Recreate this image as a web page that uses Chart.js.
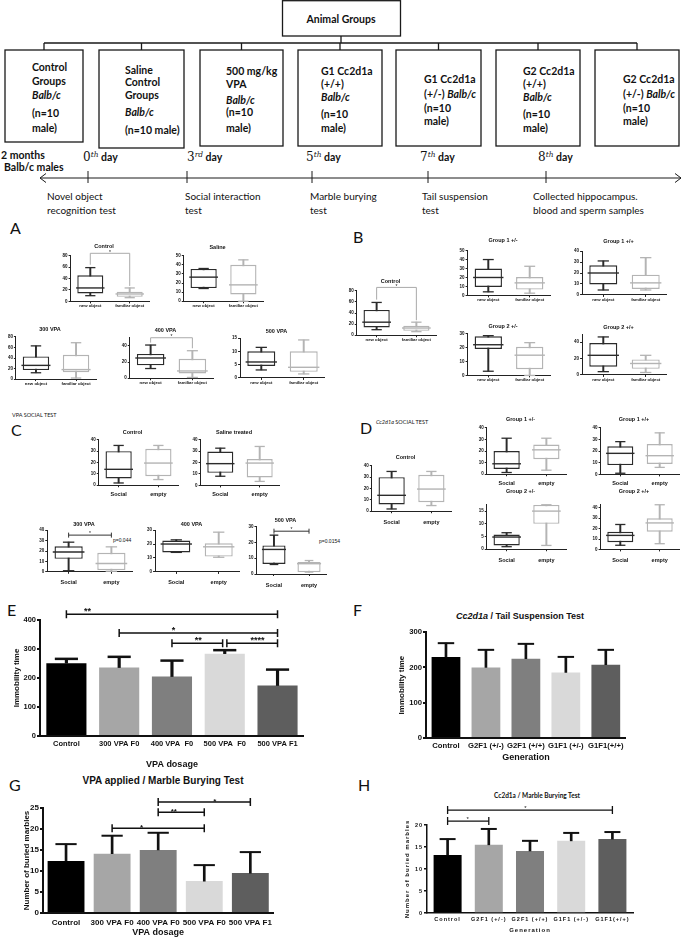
<!DOCTYPE html>
<html>
<head>
<meta charset="utf-8">
<script src="https://cdn.jsdelivr.net/npm/chart.js@4.4.1/dist/chart.umd.min.js"></script>
<style>
  body { margin: 0; background: #fff; }
  #page { position: relative; width: 685px; height: 938px; overflow: hidden; background: #fff; font-family: Lato, 'Liberation Sans', sans-serif; color: #111; }
  .t { position: absolute; white-space: nowrap; transform: translateY(-50%); line-height: 1; }
  .c { transform: translate(-50%, -50%); }
  canvas { position: absolute; }
  .bt { font-weight: bold; font-size: 10.5px; }
  .day { font-weight: bold; font-size: 10.5px; }
  .day .n { font-family: 'DejaVu Serif', serif; font-weight: normal; font-size: 12px; }
  .day sup { font-family: 'DejaVu Serif', serif; font-style: italic; font-weight: normal; font-size: 7.5px; }
  .test { font-size: 10px; }
  .lt { font-size: 16px; }
  .sm { font-size: 5.5px; }
</style>
</head>
<body>
<div id="page"></div>
<script>
// ---------- data: novel object recognition, [min, q1, median, q3, max] per box
const objectCats = ['new object', 'familiar object'];
const aControl   = [[10, 14, 23.5, 45.5, 59], [6.5, 8, 13, 17, 23.5]];
const aSaline    = [[14, 14.5, 26.5, 35.5, 36], [0, 7.5, 18, 40, 45.5]];
const a300       = [[12, 17, 26, 43, 63], [2, 13, 18, 46, 69]];
const a400       = [[12, 16, 25, 30, 41], [1, 6, 9, 24, 34]];
const a500       = [[3, 4.5, 6, 10, 11.5], [1.5, 2.3, 4, 10, 14.3]];
const bGroup1Het = [[4, 9.5, 20, 30, 40], [2.5, 6.5, 14, 20.5, 32.5]];
const bGroup1Hom = [[4.5, 9.5, 20, 27, 31], [4.5, 5.5, 11, 18.5, 34]];
const bGroup2Het = [[3, 19, 22, 28, 28.5], [0, 4.5, 14.5, 20.5, 23.5]];
const bGroup2Hom = [[4, 10, 24, 39, 46.5], [3, 7.5, 14, 19, 24]];

// ---------- data: social interaction
const socialCats = ['Social', 'empty'];
const cControl   = [[2, 6, 14, 30, 35], [5, 8, 19.5, 32, 35]];
const cSaline    = [[8, 11, 19, 29.5, 32.5], [3.5, 7, 19.5, 23, 34]];
const c300       = [[1, 12.5, 19, 24.5, 28.5], [0.5, 1.6, 8, 18.3, 24]];
const c400       = [[14, 14, 20, 22.5, 23], [10.5, 11, 18, 20.5, 28.5]];
const c500       = [[6, 6.3, 15.5, 18, 24.5], [1.2, 1.2, 6.5, 7.5, 8.5]];
const dGroup1Het = [[1.5, 4.5, 9, 20, 31], [3.5, 13, 21, 25.5, 31]];
const dGroup1Hom = [[1, 8, 18, 24, 28], [6, 9, 16, 26, 35.5]];
const dGroup2Het = [[1, 1.5, 4.8, 5.8, 6.5], [1.5, 10, 15, 17.5, 17.5]];
const dGroup2Hom = [[4, 7, 13.5, 17, 24], [5.5, 17, 25.5, 30, 43]];

// significance: [from, to, value, label, label position, left leg end, right leg end]
const aControlSig = [[0, 1, 84, '*', 0.5, 64, 27]];
const a400Sig     = [[0, 1, 50, '*', 0.5, 44, 37]];
const bControlSig = [[0, 1, 86, '*', 0.5, 64, 27]];
const c300Sig     = [[0, 1, 35.3, '*', 0.5]];
const c500Sig     = [[0, 1, 27, '*', 0.5]];

// ---------- data: bar charts (mean and top of error bar)
const vpaCatsE = ['Control', '300 VPA F0', '400 VPA  F0', '500 VPA  F0', '500 VPA F1'];
const vpaCatsG = ['Control', '300 VPA F0', '400 VPA F0', '500 VPA F0', '500 VPA F1'];
const genCats  = ['Control', 'G2F1 (+/-)', 'G2F1 (+/+)', 'G1F1 (+/-)', 'G1F1(+/+)'];
const eMeans = [251, 236, 205, 284, 174];
const eTops  = [266, 273, 260, 296, 229];
const fMeans = [230, 200, 225, 186, 208];
const fTops  = [269, 250, 267, 230, 250];
const gMeans = [12.4, 14.1, 15.0, 7.6, 9.5];
const gTops  = [16.4, 18.4, 19.1, 11.4, 14.5];
const hMeans = [13.2, 15.5, 14.1, 16.4, 16.8];
const hTops  = [16.8, 19.1, 16.4, 18.2, 18.4];
const eSig = [[0, 4, 420, '**', 0.4], [1, 4, 355, '*', 2.03], [2, 2.96, 320, '**', 2.5], [3.04, 4, 320, '****', 3.62]];
const gSig = [[2, 4, 26.4, '*', 3.23], [2, 3, 24.0, '**', 2.34], [1, 3, 20.2, '*', 1.64]];
const hSig = [[0, 4, 23.4, '*', 1.9], [0, 1, 20.9, '*', 0.5]];

const SANS = "'Liberation Sans', Arial, sans-serif";
const DARK = '#2b2b2b', LIGHT = '#b4b4b4';
const boxColors = [DARK, LIGHT];
const barColors = ['#000000', '#a6a6a6', '#7f7f7f', '#d9d9d9', '#5e5e5e'];
Chart.defaults.font.family = SANS;
Chart.defaults.color = '#111';

const page = document.getElementById('page');

function txt(x, y, html, cls, center) {
  const d = document.createElement('div');
  d.className = 't ' + (cls || '') + (center ? ' c' : '');
  d.style.left = x + 'px';
  d.style.top = y + 'px';
  d.innerHTML = html;
  page.appendChild(d);
}

// ---------- flowchart
const groupBoxes = [[5, 83, 142], [99, 184, 148], [200, 283, 146], [298, 382, 146], [396, 481, 146], [496, 580, 146], [595, 679, 146]];
const dayTicks = [88, 187, 312, 428, 546];
let svg = '<svg width="685" height="215" style="position:absolute;left:0;top:0" fill="none" stroke="#1a1a1a" stroke-width="1.3">';
svg += '<rect x="282.5" y="0.7" width="118" height="35.3"/><path d="M341 36V43M44 43H637"/>';
groupBoxes.forEach(([l, r, b]) => {
  svg += `<path d="M${(l + r) / 2} 43V50"/><rect x="${l}" y="50" width="${r - l}" height="${b - 50}"/>`;
});
svg += '<path stroke-width="1" d="M40 178H681M46 173.5L40 178L46 182.5M675 173.5L681 178L675 182.5';
dayTicks.forEach(x => { svg += `M${x} 171V183`; });
svg += '"/></svg>';
page.insertAdjacentHTML('beforeend', svg);

txt(341, 19, 'Animal Groups', 'bt', true);
const boxText = [
  [32,  [[67, 'Control'], [81, 'Groups'], [95, '<i>Balb/c</i>'], [113, '(n=10'], [128, 'male)']]],
  [125, [[70, 'Saline'], [82, 'Control'], [95, 'Groups'], [112, '<i>Balb/c</i>'], [130, '(n=10 male)']]],
  [226, [[71, '500 mg/kg'], [84, 'VPA'], [100, '<i>Balb/c</i>'], [112, '(n=10'], [128, 'male)']]],
  [321, [[71, 'G1 Cc2d1a'], [84, '(+/+)'], [97, '<i>Balb/c</i>'], [114, '(n=10'], [128, 'male)']]],
  [424, [[79, 'G1 Cc2d1a'], [94, '(+/-) <i>Balb/c</i>'], [108, '(n=10'], [121, 'male)']]],
  [523, [[71, 'G2 Cc2d1a'], [84, '(+/+)'], [97, '<i>Balb/c</i>'], [114, '(n=10'], [128, 'male)']]],
  [623, [[79, 'G2 Cc2d1a'], [94, '(+/-) <i>Balb/c</i>'], [108, '(n=10'], [121, 'male)']]],
];
boxText.forEach(([x, lines]) => lines.forEach(([y, s]) => txt(x, y, s, 'bt')));

txt(1, 155, '2 months', 'bt', false);
txt(4, 167, 'Balb/c males', 'bt', false);
[[83, '0', 'th'], [187, '3', 'rd'], [306, '5', 'th'], [420, '7', 'th'], [538, '8', 'th']].forEach(([x, n, s]) => {
  txt(x, 157, `<span class="n">${n}</span><sup>${s}</sup> day`, 'day');
});
[[47, 'Novel object', 'recognition test'], [185, 'Social interaction', 'test'], [310, 'Marble burying', 'test'],
 [422, 'Tail suspension', 'test'], [533, 'Collected hippocampus.', 'blood and sperm samples']].forEach(([x, a, b]) => {
  txt(x, 196, a, 'test');
  txt(x, 210, b, 'test');
});

// ---------- panel labels and loose text
[['A', 10, 228], ['B', 353, 237], ['C', 11, 430], ['D', 360, 428], ['E', 7, 610], ['F', 353, 610], ['G', 9, 785], ['H', 358, 785]]
  .forEach(([s, x, y]) => txt(x, y, s, 'lt'));
txt(12, 416, 'VPA SOCIAL TEST', 'sm');
txt(376, 423, '<i>Cc2d1a</i> SOCIAL TEST', 'sm');
txt(113, 536, '<span style="font:5px ' + SANS + '">p=0.044</span>', '');
txt(319, 537, '<span style="font:5px ' + SANS + '">p=0.0154</span>', '');
txt(520, 613, '<span style="font:bold 9px ' + SANS + '"><i>Cc2d1a</i> / Tail Suspension Test</span>', '', true);
txt(163, 778, '<span style="font:bold 10px ' + SANS + '">VPA applied / Marble Burying Test</span>', '', true);
txt(537, 792, '<span style="font-weight:bold;font-size:6.5px">Cc2d1a / Marble Burying Test</span>', '', true);

// ---------- chart helpers
function place(L, T, R, B, yW, xH, padT, padR) {
  const c = document.createElement('canvas');
  const left = Math.round(L - yW), top = Math.round(T - padT);
  const w = Math.round(R + padR) - left, h = Math.round(B + xH) - top;
  c.width = w; c.height = h;
  c.style.left = left + 'px'; c.style.top = top + 'px';
  c.style.width = w + 'px'; c.style.height = h + 'px';
  page.appendChild(c);
  return c;
}

function brackets(items, o) {
  return {
    id: 'brackets',
    afterDatasetsDraw(chart) {
      const { ctx, scales: { x, y } } = chart;
      ctx.save();
      ctx.strokeStyle = o.color; ctx.lineWidth = o.width;
      ctx.fillStyle = '#111'; ctx.font = o.font;
      ctx.textAlign = 'center'; ctx.textBaseline = 'alphabetic';
      items.forEach(([from, to, val, label, at, legL, legR]) => {
        const x1 = x.getPixelForValue(from), x2 = x.getPixelForValue(to), py = y.getPixelForValue(val);
        ctx.beginPath();
        ctx.moveTo(x1, py); ctx.lineTo(x2, py);
        if (legL !== undefined) {
          ctx.moveTo(x1, py); ctx.lineTo(x1, y.getPixelForValue(legL));
          ctx.moveTo(x2, py); ctx.lineTo(x2, y.getPixelForValue(legR));
        } else {
          ctx.moveTo(x1, py - o.cap); ctx.lineTo(x1, py + o.cap);
          ctx.moveTo(x2, py - o.cap); ctx.lineTo(x2, py + o.cap);
        }
        ctx.stroke();
        ctx.fillText(label, x.getPixelForValue(at), py - o.gap + 0.57 * o.size);
      });
      ctx.restore();
    }
  };
}

function boxChart(o) {
  const [L, T, R, B] = o.rect;
  const yW = 12, padR = 12, tSize = 5.5;
  const padT = T - (o.titleY - tSize / 2 - 1);
  const xH = o.social ? 15 : 9;
  const canvas = place(L, T, R, B, yW, xH, padT, padR);
  const frac = 0.66;
  const halfBox = (R - L) / o.cats.length * frac / 2;
  const pts = (vals, r, w) => ({ type: 'line', data: vals, showLine: false, pointStyle: 'line', pointRadius: r,
    pointBorderWidth: w, pointBorderColor: boxColors, pointBackgroundColor: boxColors, clip: false });
  const plugins = o.sig ? [brackets(o.sig, o.sigStyle === 'cap'
    ? { color: '#333', width: 1, cap: 2.5, gap: 3, size: 5, font: '5px ' + SANS }
    : { color: '#aaa', width: 1, cap: 0, gap: 2.5, size: 5, font: '5px ' + SANS })] : [];
  new Chart(canvas, {
    type: 'bar',
    data: {
      labels: o.cats,
      datasets: [
        { data: o.box.map(b => [b[0], b[4]]), backgroundColor: boxColors, barThickness: 1.3, grouped: false, order: 5 },
        { data: o.box.map(b => [b[1], b[3]]), backgroundColor: '#fff', borderColor: boxColors, borderWidth: 1.4,
          borderSkipped: false, barPercentage: frac, categoryPercentage: 1, grouped: false, order: 4 },
        Object.assign(pts(o.box.map(b => b[2]), halfBox, 1.4), { order: 1 }),
        Object.assign(pts(o.box.map(b => b[0]), halfBox * 0.36, 1.3), { order: 2 }),
        Object.assign(pts(o.box.map(b => b[4]), halfBox * 0.36, 1.3), { order: 3 }),
      ]
    },
    plugins,
    options: {
      responsive: false, animation: false, events: [],
      layout: { padding: { top: 0, right: padR, left: 0, bottom: 0 } },
      plugins: {
        legend: { display: false }, tooltip: { enabled: false },
        title: { display: true, text: o.title, color: '#111',
          font: { family: SANS, weight: 'bold', size: tSize, lineHeight: 1 },
          padding: { top: 1, bottom: padT - tSize - 1 } },
      },
      scales: {
        x: {
          offset: true,
          grid: { display: true, drawOnChartArea: false, offset: false, tickLength: 2, color: '#222' },
          border: { color: '#222', width: 1 },
          ticks: { autoSkip: false, maxRotation: 0, padding: o.xPad || 0, color: '#111',
            font: o.social ? { size: 5.5, weight: 'bold' } : { size: 4.3, weight: 'bold' } },
          afterFit: s => { s.height = xH; }
        },
        y: {
          min: 0, max: o.max,
          grid: { display: true, drawOnChartArea: false, tickLength: 2, color: '#222' },
          border: { color: '#222', width: 1 },
          ticks: { stepSize: o.step, includeBounds: false, padding: 1, color: '#111', font: { size: 4.5, weight: 'bold' } },
          afterFit: s => { s.width = yW; }
        }
      }
    }
  });
}

function barChart(o) {
  const [L, T, R, B] = o.rect;
  const canvas = place(L, T, R, B, o.yW, o.xH, o.padT, o.padR);
  const catW = (R - L) / o.cats.length;
  const plugins = [brackets(o.sig, o.sigStyle)];
  if (o.spacing) plugins.push({ id: 'spacing', beforeDraw(c) { c.ctx.letterSpacing = o.spacing; } });
  new Chart(canvas, {
    type: 'bar',
    data: {
      labels: o.cats,
      datasets: [
        { data: o.means, backgroundColor: barColors, barPercentage: o.frac, categoryPercentage: 1, grouped: false, order: 3 },
        { data: o.means.map((m, i) => [m, o.tops[i]]), backgroundColor: '#111', barThickness: o.lw, grouped: false, order: 2 },
        { type: 'line', data: o.tops, showLine: false, pointStyle: 'line', pointRadius: catW * o.frac * 0.28,
          pointBorderWidth: o.lw, pointBorderColor: '#111', clip: false, order: 1 },
      ]
    },
    plugins,
    options: {
      responsive: false, animation: false, events: [],
      layout: { padding: { top: o.padT, right: o.padR, left: 0, bottom: 0 } },
      plugins: { legend: { display: false }, tooltip: { enabled: false } },
      scales: {
        x: {
          offset: true,
          grid: { display: false, drawTicks: false, tickLength: 0 },
          border: { color: '#111', width: o.axisW },
          ticks: { autoSkip: false, maxRotation: 0, padding: o.xPad, color: '#111', font: { size: o.tick, weight: 'bold' } },
          title: { display: true, text: o.xTitle, padding: 0, color: '#111', font: { size: o.xtSize, weight: 'bold' } },
          afterFit: s => { s.height = o.xH; }
        },
        y: {
          min: 0, max: o.max,
          grid: { display: true, drawOnChartArea: false, tickLength: 3, color: '#111', lineWidth: o.axisW },
          border: { color: '#111', width: o.axisW },
          ticks: { stepSize: o.step, padding: 1, color: '#111', font: { size: o.tick, weight: 'bold' } },
          title: { display: true, text: o.yTitle, padding: 0, color: '#111', font: { size: o.ytSize, weight: 'bold' } },
          afterFit: s => { s.width = o.yW; }
        }
      }
    }
  });
}

// ---------- panel A
boxChart({ rect: [67, 253, 153, 308], max: 80, step: 20, title: 'Control', titleY: 244, cats: objectCats, box: aControl, sig: aControlSig });
boxChart({ rect: [180, 252, 267, 308], max: 50, step: 10, title: 'Saline', titleY: 244, cats: objectCats, box: aSaline });
boxChart({ rect: [12, 332, 100, 386], max: 80, step: 20, title: '300 VPA', titleY: 325, cats: objectCats, box: a300 });
boxChart({ rect: [125, 332, 218, 386], max: 50, step: 10, title: '400 VPA', titleY: 325, cats: objectCats, box: a400, sig: a400Sig });
boxChart({ rect: [235, 332, 330, 386], max: 15, step: 5, title: '500 VPA', titleY: 325, cats: objectCats, box: a500 });

// ---------- panel B
boxChart({ rect: [353, 288, 440, 342], max: 80, step: 20, title: 'Control', titleY: 279, cats: objectCats, box: aControl, sig: bControlSig });
boxChart({ rect: [463, 248, 555, 303], max: 50, step: 10, title: 'Group 1 +/-', titleY: 238, cats: objectCats, box: bGroup1Het });
boxChart({ rect: [577, 248, 672, 303], max: 40, step: 10, title: 'Group 1 +/+', titleY: 238, cats: objectCats, box: bGroup1Hom });
boxChart({ rect: [463, 328, 555, 383], max: 30, step: 10, title: 'Group 2 +/-', titleY: 321, cats: objectCats, box: bGroup2Het });
boxChart({ rect: [577, 328, 672, 383], max: 50, step: 10, title: 'Group 2 +/+', titleY: 321, cats: objectCats, box: bGroup2Hom });

// ---------- panel C
boxChart({ rect: [95, 435, 182, 486], max: 40, step: 10, title: 'Control', titleY: 428, cats: socialCats, box: cControl, social: true, xPad: 3.7 });
boxChart({ rect: [197, 435, 283, 486], max: 40, step: 10, title: 'Saline treated', titleY: 428, cats: socialCats, box: cSaline, social: true, xPad: 3.7 });
boxChart({ rect: [42, 523, 138, 574], max: 40, step: 10, title: '300 VPA', titleY: 517, cats: socialCats, box: c300, social: true, xPad: 5.7, sig: c300Sig, sigStyle: 'cap' });
boxChart({ rect: [150, 523, 245, 574], max: 30, step: 10, title: '400 VPA', titleY: 517, cats: socialCats, box: c400, social: true, xPad: 5.7 });
boxChart({ rect: [255, 523, 328, 574], max: 30, step: 10, title: '500 VPA', titleY: 517, cats: socialCats, box: c500, social: true, xPad: 5.7, sig: c500Sig, sigStyle: 'cap' });

// ---------- panel D
boxChart({ rect: [368, 462, 455, 512], max: 40, step: 10, title: 'Control', titleY: 454, cats: socialCats, box: cControl, social: true, xPad: 5.7 });
boxChart({ rect: [483, 424, 570, 475], max: 40, step: 10, title: 'Group 1 +/-', titleY: 416, cats: socialCats, box: dGroup1Het, social: true, xPad: 3.7 });
boxChart({ rect: [597, 424, 683, 475], max: 40, step: 10, title: 'Group 1 +/+', titleY: 416, cats: socialCats, box: dGroup1Hom, social: true, xPad: 3.7 });
boxChart({ rect: [483, 505, 570, 550], max: 17.5, step: 5, title: 'Group 2 +/-', titleY: 492, cats: socialCats, box: dGroup2Het, social: true, xPad: 5.7 });
boxChart({ rect: [597, 505, 683, 550], max: 43, step: 10, title: 'Group 2 +/+', titleY: 492, cats: socialCats, box: dGroup2Hom, social: true, xPad: 5.7 });

// ---------- panels E-H
barChart({ rect: [40, 620, 312, 736], yW: 28, xH: 34, padT: 18, padR: 6, max: 400, step: 100, cats: vpaCatsE,
  means: eMeans, tops: eTops, frac: 0.76, lw: 2.5, axisW: 2, tick: 7.5, xPad: 3.5,
  xTitle: 'VPA dosage', xtSize: 9, yTitle: 'Immobility time', ytSize: 8, sig: eSig,
  sigStyle: { color: '#111', width: 1.5, cap: 4, gap: 5, size: 9, font: 'bold 9px ' + SANS } });
barChart({ rect: [426, 630, 630, 738], yW: 29, xH: 25, padT: 8, padR: 6, max: 300, step: 100, cats: genCats,
  means: fMeans, tops: fTops, frac: 0.72, lw: 2, axisW: 2, tick: 7.7, xPad: 3,
  xTitle: 'Generation', xtSize: 9, yTitle: 'Immobility time', ytSize: 8, sig: [],
  sigStyle: { color: '#111', width: 1.5, cap: 4, gap: 5, size: 9, font: 'bold 9px ' + SANS } });
barChart({ rect: [43, 808, 280, 913], yW: 21, xH: 25, padT: 13, padR: 6, max: 25, step: 5, cats: vpaCatsG,
  means: gMeans, tops: gTops, frac: 0.8, lw: 2, axisW: 2, tick: 8, xPad: 5,
  xTitle: 'VPA dosage', xtSize: 9, yTitle: 'Number of buried marbles', ytSize: 8, sig: gSig,
  sigStyle: { color: '#111', width: 1.5, cap: 4, gap: 3, size: 8, font: 'bold 8px ' + SANS } });
barChart({ rect: [427, 825, 637, 913], yW: 23, xH: 21, padT: 25, padR: 6, max: 20, step: 5, cats: genCats,
  means: hMeans, tops: hTops, frac: 0.68, lw: 2, axisW: 1.5, tick: 5.5, xPad: 3.5,
  xTitle: 'Generation', xtSize: 6, yTitle: 'Number of buried marbles', ytSize: 6, sig: hSig, spacing: '1px',
  sigStyle: { color: '#111', width: 1.3, cap: 4, gap: 3, size: 6, font: '6px ' + SANS } });
</script>
</body>
</html>
